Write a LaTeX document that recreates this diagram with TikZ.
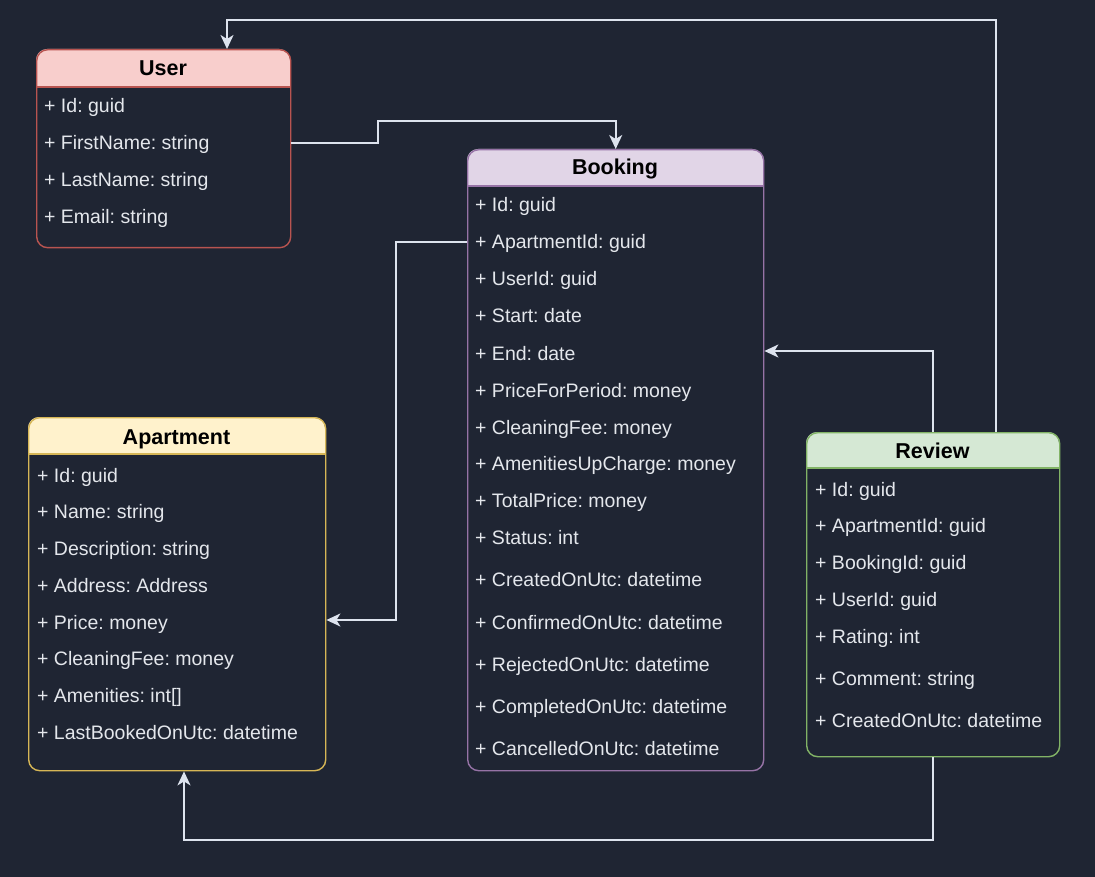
\documentclass[tikz,border=0pt]{standalone}
\usepackage{fontspec}
\setmainfont{Liberation Sans}
\usetikzlibrary{arrows.meta,calc}
\definecolor{bg}{HTML}{1F2533}
\definecolor{txt}{HTML}{E4E7EC}
\definecolor{wire}{HTML}{DDE3EE}
\definecolor{userhd}{HTML}{F8CECC}\definecolor{userbd}{HTML}{B85450}
\definecolor{bookhd}{HTML}{E1D5E7}\definecolor{bookbd}{HTML}{9673A6}
\definecolor{apthd}{HTML}{FFF2CC}\definecolor{aptbd}{HTML}{D6B656}
\definecolor{revhd}{HTML}{D5E8D4}\definecolor{revbd}{HTML}{82B366}
\tikzset{
  classbox/.style={draw=#1, line width=1.4pt, rounded corners=11pt, inner sep=0pt, anchor=north west},
  hdrline/.style={draw=#1, line width=1.4pt},
  classtitle/.style={anchor=base, inner sep=0pt, text=black, font=\fontsize{21.5}{25}\selectfont\bfseries},
  field/.style={anchor=base west, inner sep=0pt, text=txt, font=\fontsize{19.5}{23}\selectfont\frenchspacing},
  conn/.style={draw=wire, line width=1.8pt, -{Stealth[length=14pt,width=13pt,inset=4pt]}},
}
\begin{document}
\frenchspacing
\begin{tikzpicture}[x=1pt,y=-1pt]
\fill[bg] (0,0) rectangle (1095,877);
\useasboundingbox (0,0) rectangle (1095,877);

% ---------- User ----------
\fill[userhd] (36,87) [rounded corners=11pt] -- (36,49) -- (290,49) [sharp corners] -- (290,87) -- cycle;
\draw[hdrline=userbd] (36,87) -- (290,87);
\node[classbox=userbd, minimum width=254pt, minimum height=198pt] (user) at (36,49) {};
\node[classtitle] (usert) at (163,76) {User};
\node[field] (u1) at (44,113) {+ Id: guid};
\node[field] (u2) at (44,150) {+ FirstName: string};
\node[field] (u3) at (44,187) {+ LastName: string};
\node[field] (u4) at (44,224) {+ Email: string};

% ---------- Booking ----------
\fill[bookhd] (467,186) [rounded corners=11pt] -- (467,149) -- (763,149) [sharp corners] -- (763,186) -- cycle;
\draw[hdrline=bookbd] (467,186) -- (763,186);
\node[classbox=bookbd, minimum width=296pt, minimum height=621pt] (booking) at (467,149) {};
\node[classtitle] (bookt) at (615,175) {Booking};
\node[field] (b1) at (475,212) {+ Id: guid};
\node[field] (b2) at (475,249) {+ ApartmentId: guid};
\node[field] (b3) at (475,286) {+ UserId: guid};
\node[field] (b4) at (475,323) {+ Start: date};
\node[field] (b5) at (475,360) {+ End: date};
\node[field] (b6) at (475,397) {+ PriceForPeriod: money};
\node[field] (b7) at (475,434) {+ CleaningFee: money};
\node[field] (b8) at (475,470) {+ AmenitiesUpCharge: money};
\node[field] (b9) at (475,507) {+ TotalPrice: money};
\node[field] (b10) at (475,544) {+ Status: int};
\node[field] (b11) at (475,586) {+ CreatedOnUtc: datetime};
\node[field] (b12) at (475,629) {+ ConfirmedOnUtc: datetime};
\node[field] (b13) at (475,671) {+ RejectedOnUtc: datetime};
\node[field] (b14) at (475,713) {+ CompletedOnUtc: datetime};
\node[field] (b15) at (475,755) {+ CancelledOnUtc: datetime};

% ---------- Apartment ----------
\fill[apthd] (28,454) [rounded corners=11pt] -- (28,417) -- (325,417) [sharp corners] -- (325,454) -- cycle;
\draw[hdrline=aptbd] (28,454) -- (325,454);
\node[classbox=aptbd, minimum width=297pt, minimum height=353pt] (apartment) at (28,417) {};
\node[classtitle] (aptt) at (176.5,444) {Apartment};
\node[field] (a1) at (37,482) {+ Id: guid};
\node[field] (a2) at (37,518) {+ Name: string};
\node[field] (a3) at (37,555) {+ Description: string};
\node[field] (a4) at (37,592) {+ Address: Address};
\node[field] (a5) at (37,629) {+ Price: money};
\node[field] (a6) at (37,665) {+ CleaningFee: money};
\node[field] (a7) at (37,702) {+ Amenities: int[]};
\node[field] (a8) at (37,739) {+ LastBookedOnUtc: datetime};

% ---------- Review ----------
\fill[revhd] (806,468) [rounded corners=11pt] -- (806,432) -- (1059,432) [sharp corners] -- (1059,468) -- cycle;
\draw[hdrline=revbd] (806,468) -- (1059,468);
\node[classbox=revbd, minimum width=253pt, minimum height=324pt] (review) at (806,432) {};
\node[classtitle] (revt) at (932.5,458) {Review};
\node[field] (r1) at (815,496) {+ Id: guid};
\node[field] (r2) at (815,532) {+ ApartmentId: guid};
\node[field] (r3) at (815,569) {+ BookingId: guid};
\node[field] (r4) at (815,606) {+ UserId: guid};
\node[field] (r5) at (815,643) {+ Rating: int};
\node[field] (r6) at (815,685) {+ Comment: string};
\node[field] (r7) at (815,727) {+ CreatedOnUtc: datetime};

% ---------- Connectors ----------
\coordinate (k1) at (378,121);
\draw[conn] (user.east |- 0,143) -| (k1) -| (booking.north);

\coordinate (k2) at (396,620);
\draw[conn] (booking.west |- 0,242) -| (k2) -- (apartment.east |- k2);

\coordinate (k3) at (933,351);
\draw[conn] (review.north -| k3) -- (k3) -- (booking.east |- k3);

\coordinate (k4) at (996,20);
\coordinate (k5) at (227,20);
\draw[conn] (review.north -| k4) -- (k4) -- (k5) -- (k5 |- user.north);

\coordinate (k6) at (933,840);
\coordinate (k7) at (184,840);
\draw[conn] (review.south -| k6) -- (k6) -- (k7) -- (k7 |- apartment.south);
\end{tikzpicture}
\end{document}
